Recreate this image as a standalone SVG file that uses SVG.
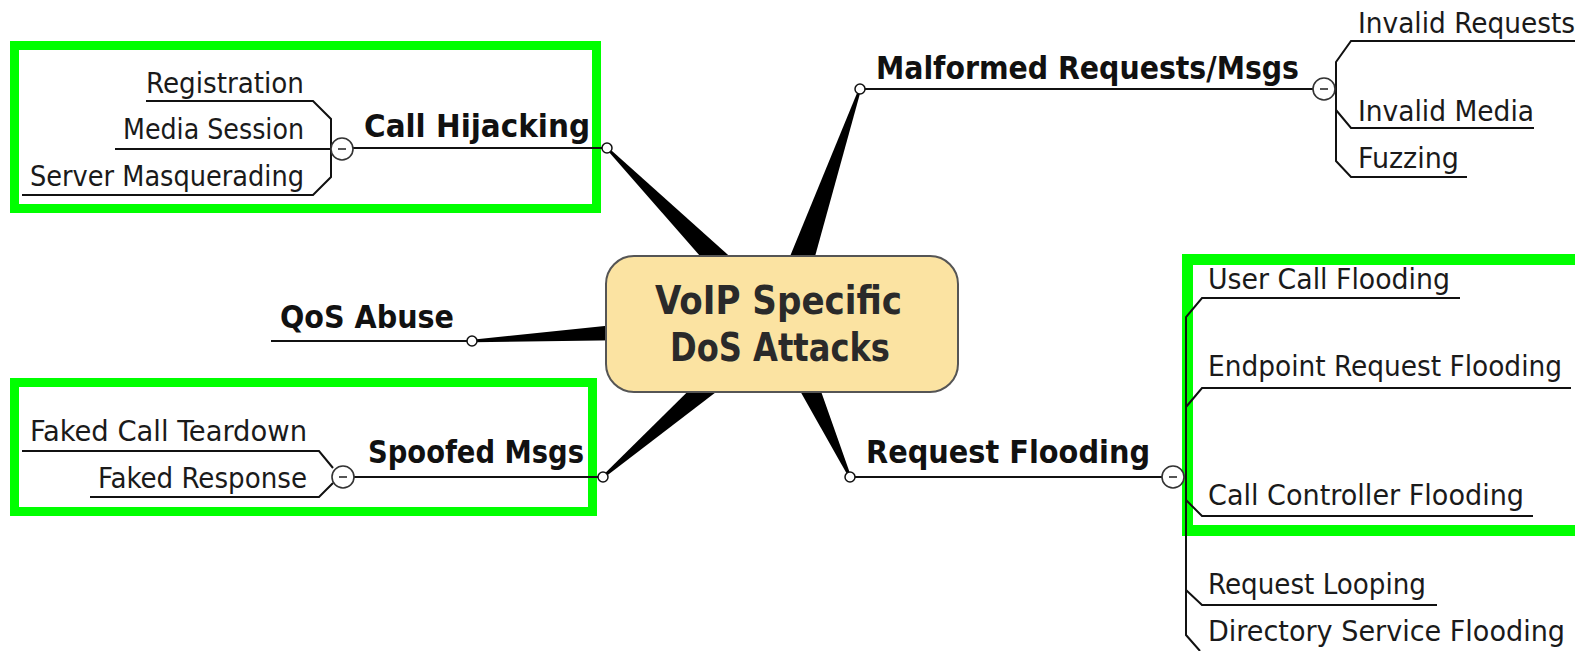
<svg xmlns="http://www.w3.org/2000/svg" width="1575" height="651" viewBox="0 0 1575 651">
<defs>
<style>
.t{font-family:"DejaVu Sans Condensed","DejaVu Sans",sans-serif;font-size:28px;fill:#1a1a1a}
.b{font-family:"DejaVu Sans Condensed","DejaVu Sans",sans-serif;font-size:32px;font-weight:bold;fill:#111}
.c{font-family:"DejaVu Sans Condensed","DejaVu Sans",sans-serif;font-size:39px;font-weight:bold;fill:#2a2a2a}
.ln{fill:none;stroke:#111;stroke-width:2}
.g{fill:none;stroke:#00ff00;stroke-width:9}
.dot{fill:#fff;stroke:#111;stroke-width:1.5}
.col{fill:#fff;stroke:#333;stroke-width:1.6}
.minus{stroke:#555;stroke-width:2}
.spoke{fill:#000}
</style>
</defs>
<rect width="1575" height="651" fill="#fff"/>
<g id="highlight-boxes">
<rect class="g" x="14.5" y="45.5" width="582" height="163"/>
<rect class="g" x="14.5" y="382.5" width="578" height="129"/>
<rect class="g" x="1187.5" y="259.5" width="420" height="271" style="stroke-width:11"/>
</g>
<g id="connectors">
<polygon class="spoke" points="791.5,311.8 607.9,147.2 606.1,148.8 768.5,334.2"/>
<polygon class="spoke" points="795.2,328.2 861.1,89.4 858.9,88.6 764.8,317.8"/>
<polygon class="spoke" points="780.9,338 472.1,342.2 471.9,339.8 779.1,308"/>
<polygon class="spoke" points="790.5,335.1 603.8,477.9 602.2,476.1 769.5,310.9"/>
<polygon class="spoke" points="794.6,316.4 851.1,476.5 848.9,477.5 765.4,329.6"/>
<!-- Call Hijacking -->
<path class="ln" d="M607,148 H353"/>
<path class="ln" d="M146,101 H313 L331,119 V177 L313,195 H22"/>
<path class="ln" d="M115,149 H332"/>
<!-- Malformed -->
<path class="ln" d="M860,89 H1313"/>
<path class="ln" d="M1575,41 H1351 L1336,62 V161 L1351,177 H1467"/>
<path class="ln" d="M1336,110 L1351,128 H1534"/>
<!-- QoS -->
<path class="ln" d="M271,341 H472"/>
<!-- Spoofed -->
<path class="ln" d="M603,477 H354"/>
<path class="ln" d="M22,451 H319 L333,468"/>
<path class="ln" d="M90,497 H319 L333,483"/>
<!-- Request Flooding -->
<path class="ln" d="M850,477 H1162"/>
<path class="ln" d="M1460,298 H1202 L1186,317 V635 L1200,651"/>
<path class="ln" d="M1186,407 L1202,388 H1571"/>
<path class="ln" d="M1186,500 L1202,516 H1533"/>
<path class="ln" d="M1186,590 L1202,605 H1437"/>
</g>
<g id="center">
<rect x="606" y="256" width="352" height="136" rx="28" fill="#fbe3a2" stroke="#555" stroke-width="2"/>
<text class="c" x="655" y="314" textLength="247" lengthAdjust="spacingAndGlyphs">VoIP Specific</text>
<text class="c" x="670" y="361" textLength="220" lengthAdjust="spacingAndGlyphs">DoS Attacks</text>
</g>
<g id="call-hijacking">
<text class="b" x="364" y="137" textLength="226" lengthAdjust="spacingAndGlyphs">Call Hijacking</text>
<circle class="dot" cx="607" cy="148" r="5"/>
<circle class="col" cx="342" cy="149" r="11"/>
<line class="minus" x1="338" y1="149" x2="346" y2="149"/>
</g>
<g id="registration"><text class="t" x="146" y="93" textLength="158" lengthAdjust="spacingAndGlyphs">Registration</text></g>
<g id="media-session"><text class="t" x="123" y="139" textLength="181" lengthAdjust="spacingAndGlyphs">Media Session</text></g>
<g id="server-masquerading"><text class="t" x="30" y="186" textLength="274" lengthAdjust="spacingAndGlyphs">Server Masquerading</text></g>
<g id="malformed">
<text class="b" x="876" y="79" textLength="423" lengthAdjust="spacingAndGlyphs">Malformed Requests/Msgs</text>
<circle class="dot" cx="860" cy="89" r="5"/>
<circle class="col" cx="1324" cy="89" r="11"/>
<line class="minus" x1="1320" y1="89" x2="1328" y2="89"/>
</g>
<g id="invalid-requests"><text class="t" x="1358" y="33" textLength="217" lengthAdjust="spacingAndGlyphs">Invalid Requests</text></g>
<g id="invalid-media"><text class="t" x="1358" y="121" textLength="176" lengthAdjust="spacingAndGlyphs">Invalid Media</text></g>
<g id="fuzzing"><text class="t" x="1358" y="168" textLength="101" lengthAdjust="spacingAndGlyphs">Fuzzing</text></g>
<g id="qos-abuse">
<text class="b" x="280" y="328" textLength="174" lengthAdjust="spacingAndGlyphs">QoS Abuse</text>
<circle class="dot" cx="472" cy="341" r="5"/>
</g>
<g id="spoofed">
<text class="b" x="368" y="463" textLength="216" lengthAdjust="spacingAndGlyphs">Spoofed Msgs</text>
<circle class="dot" cx="603" cy="477" r="5"/>
<circle class="col" cx="343" cy="477" r="11"/>
<line class="minus" x1="339" y1="477" x2="347" y2="477"/>
</g>
<g id="faked-call-teardown"><text class="t" x="30" y="441" textLength="277" lengthAdjust="spacingAndGlyphs">Faked Call Teardown</text></g>
<g id="faked-response"><text class="t" x="98" y="488" textLength="209" lengthAdjust="spacingAndGlyphs">Faked Response</text></g>
<g id="request-flooding">
<text class="b" x="866" y="463" textLength="284" lengthAdjust="spacingAndGlyphs">Request Flooding</text>
<circle class="dot" cx="850" cy="477" r="5"/>
<circle class="col" cx="1173" cy="477" r="11"/>
<line class="minus" x1="1169" y1="477" x2="1177" y2="477"/>
</g>
<g id="user-call-flooding"><text class="t" x="1208" y="289" textLength="242" lengthAdjust="spacingAndGlyphs">User Call Flooding</text></g>
<g id="endpoint-request-flooding"><text class="t" x="1208" y="376" textLength="354" lengthAdjust="spacingAndGlyphs">Endpoint Request Flooding</text></g>
<g id="call-controller-flooding"><text class="t" x="1208" y="505" textLength="316" lengthAdjust="spacingAndGlyphs">Call Controller Flooding</text></g>
<g id="request-looping"><text class="t" x="1208" y="594" textLength="218" lengthAdjust="spacingAndGlyphs">Request Looping</text></g>
<g id="directory-service-flooding"><text class="t" x="1208" y="641" textLength="357" lengthAdjust="spacingAndGlyphs">Directory Service Flooding</text></g>
</svg>
